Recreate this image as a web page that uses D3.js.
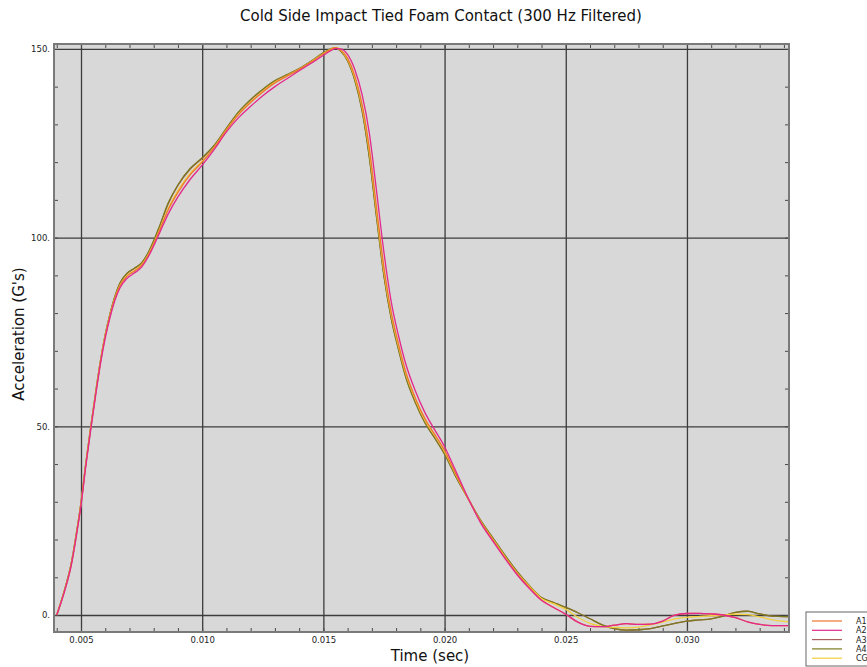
<!DOCTYPE html>
<html>
<head>
<meta charset="utf-8">
<script src="https://cdn.jsdelivr.net/npm/d3@7"></script>
<style>
  html, body { margin: 0; padding: 0; background: #ffffff; }
  svg { display: block; font-family: "DejaVu Sans", sans-serif; }
</style>
</head>
<body>
<svg id="chart" width="867" height="667"></svg>
<script>
// ---------------- data ----------------
const seriesNames = ["A1", "A2", "A3", "A4", "CG"];
const seriesColors = ["#ee7530", "#e2288c", "#a8605c", "#7c7a1e", "#f2cf3c"];

const times = [0.0040, 0.0043, 0.0046, 0.0048, 0.0050, 0.0052, 0.0054, 0.0056, 0.0058, 0.0060,
  0.0062, 0.0064, 0.0066, 0.0069, 0.0072, 0.0075, 0.0078, 0.0082, 0.0086, 0.0090,
  0.0095, 0.0100, 0.0105, 0.0110, 0.0115, 0.0120, 0.0125, 0.0130, 0.0135, 0.0140,
  0.0145, 0.0150, 0.0153, 0.0155, 0.0157, 0.0160, 0.0163, 0.0166, 0.0169, 0.0172,
  0.0175, 0.0178, 0.0181, 0.0184, 0.0188, 0.0192, 0.0196, 0.0200, 0.0205, 0.0210,
  0.0215, 0.0220, 0.0225, 0.0230, 0.0235, 0.0240, 0.0245, 0.0250, 0.0255, 0.0260,
  0.0265, 0.0270, 0.0275, 0.0280, 0.0285, 0.0290, 0.0295, 0.0300, 0.0305, 0.0310,
  0.0315, 0.0320, 0.0325, 0.0330, 0.0335, 0.0340, 0.0342];

const valuesCG = [0, 6, 13.5, 21, 29.5, 40, 49.5, 58.5, 67, 74,
  79.5, 84, 87.3, 90, 91.3, 92.8, 95.8, 101.5, 107.8, 112.5,
  117, 120.3, 124, 128.6, 132.8, 136, 138.8, 141.2, 142.9, 144.6,
  146.6, 148.8, 149.9, 150.3, 149.7, 147.2, 142.3, 134.5, 122.5, 106.5,
  91, 79.5, 71.2, 63.9, 57, 51.5, 47.5, 43.3, 36.7, 30.5,
  24.7, 20.0, 15.4, 11.1, 7.6, 4.4, 3.0, 1.5, -0.6, -2.2,
  -3.0, -3.3, -3.4, -3.2, -2.6, -1.9, -1.0, -0.6, -0.4, -0.2,
  0.0, 0.2, 0.1, -0.5, -1.2, -1.7, -1.8];

const valuesA4 = [0, 6.2, 13.8, 21.3, 29.8, 40.3, 49.8, 58.8, 67.3, 74.3,
  79.9, 84.5, 87.9, 90.6, 91.9, 93.3, 96.4, 102.4, 109.2, 114.0,
  118.3, 121.2, 124.5, 129.0, 133.3, 136.6, 139.3, 141.6, 143.2, 144.8,
  146.8, 149.0, 150.0, 150.3, 149.5, 146.8, 141.6, 133.5, 121, 105,
  89.7, 78.5, 70.3, 63, 56.2, 50.8, 46.8, 42.6, 36.2, 30.5,
  25.0, 20.4, 15.8, 11.5, 7.8, 4.6, 3.3, 2.0, 0.6, -1.0,
  -2.6, -3.6, -4.0, -3.9, -3.6, -2.9, -2.2, -1.6, -1.3, -1.0,
  -0.3, 0.7, 1.0, 0.3, -0.3, -0.4, -0.4];

const valuesA3 = [0, 6.1, 13.7, 21.2, 29.7, 40.2, 49.7, 58.7, 67.2, 74.2,
  79.8, 84.4, 87.8, 90.5, 91.8, 93.2, 96.3, 102.2, 109.0, 113.8,
  118.1, 121.0, 124.4, 128.9, 133.2, 136.5, 139.2, 141.5, 143.1, 144.7,
  146.7, 148.9, 150.0, 150.3, 149.5, 146.9, 141.7, 133.6, 121.2, 105.2,
  89.9, 78.6, 70.4, 63.1, 56.3, 50.9, 46.9, 42.7, 36.3, 30.5,
  24.9, 20.3, 15.7, 11.4, 7.7, 4.6, 3.3, 2.0, 0.6, -1.0,
  -2.6, -3.6, -4.0, -3.9, -3.6, -2.9, -2.2, -1.6, -1.3, -1.0,
  -0.3, 0.7, 1.0, 0.3, -0.3, -0.4, -0.4];

const valuesA2 = [0, 5.8, 13.2, 20.6, 29, 39.5, 49, 58, 66.4, 73.4,
  78.9, 83.4, 86.6, 89.2, 90.6, 92.2, 95.2, 100.6, 106.3, 110.8,
  115.4, 119.2, 123.4, 128.0, 131.8, 134.8, 137.6, 140.0, 142.1, 144.2,
  146.2, 148.3, 149.5, 150.1, 150.0, 148.5, 144.5, 137.8, 127.5, 112,
  96, 83, 74, 66.5, 59.3, 53.5, 49, 44.6, 37.6, 30.6,
  24.3, 19.5, 14.9, 10.6, 7.0, 3.9, 2.0, 0.2, -1.9, -3.0,
  -3.1, -2.7, -2.3, -2.5, -2.4, -1.6, 0.0, 0.4, 0.45, 0.3,
  0.0, -0.7, -1.8, -2.5, -2.8, -2.8, -2.8];

const valuesA1 = [0, 6, 13.4, 20.9, 29.4, 39.9, 49.4, 58.4, 66.9, 73.9,
  79.4, 83.9, 87.2, 89.8, 91.1, 92.6, 95.6, 101.3, 107.4, 112.0,
  116.6, 120.0, 123.9, 128.5, 132.6, 135.8, 138.6, 141.0, 142.8, 144.5,
  146.5, 148.7, 149.8, 150.3, 149.8, 147.5, 142.8, 135.2, 123.5, 107.5,
  92, 80.2, 71.8, 64.4, 57.4, 51.9, 47.8, 43.6, 36.9, 30.5,
  24.6, 19.8, 15.2, 10.9, 7.3, 3.9, 2.0, 0.2, -1.9, -3.0,
  -3.1, -2.7, -2.3, -2.5, -2.4, -1.6, 0.0, 0.4, 0.45, 0.3,
  0.0, -0.7, -1.8, -2.5, -2.8, -2.8, -2.8];

const seriesValues = [valuesA1, valuesA2, valuesA3, valuesA4, valuesCG];
const drawOrder = [2, 3, 4, 0, 1];   // A3, A4, CG, A1, A2

const xTicks = [0.005, 0.010, 0.015, 0.020, 0.025, 0.030];
const xTickLabels = ["0.005", "0.010", "0.015", "0.020", "0.025", "0.030"];
const yTicks = [0, 50, 100, 150];
const yTickLabels = ["0.", "50.", "100.", "150."];
const xMinorTicks = [0.004, 0.005, 0.006, 0.007, 0.008, 0.009, 0.010, 0.011, 0.012, 0.013, 0.014,
  0.015, 0.016, 0.017, 0.018, 0.019, 0.020, 0.021, 0.022, 0.023, 0.024, 0.025, 0.026, 0.027,
  0.028, 0.029, 0.030, 0.031, 0.032, 0.033, 0.034];
const yMinorTicks = [0, 10, 20, 30, 40, 50, 60, 70, 80, 90, 100, 110, 120, 130, 140, 150];

const titleText = "Cold Side Impact Tied Foam Contact (300 Hz Filtered)";
const xLabelText = "Time (sec)";
const yLabelText = "Acceleration (G's)";

// ---------------- layout ----------------
(function () {
const svg = d3.select("#chart");
const pLeft = 54, pRight = 789, pTop = 44, pBottom = 632;
const W = pRight - pLeft, H = pBottom - pTop;

const x = d3.scaleLinear().domain([0.003886, 0.03421]).range([0, W]);
const y = d3.scaleLinear().domain([-4.5, 151.3]).range([H, 0]);

const g = svg.append("g").attr("transform", `translate(${pLeft},${pTop})`);

g.append("rect").attr("width", W).attr("height", H).attr("fill", "#d8d8d8");

// grid lines + labels (major)
const xAxis = g.append("g").attr("transform", `translate(0,${H})`)
  .call(d3.axisBottom(x).tickValues(xTicks)
    .tickFormat((d, i) => xTickLabels[i]).tickSizeInner(-H).tickSizeOuter(0).tickPadding(5));
const yAxis = g.append("g")
  .call(d3.axisLeft(y).tickValues(yTicks)
    .tickFormat((d, i) => yTickLabels[i]).tickSizeInner(-W).tickSizeOuter(0).tickPadding(4));
[xAxis, yAxis].forEach(a => {
  a.select(".domain").remove();
  a.selectAll(".tick line").attr("stroke", "#3c3c3c").attr("stroke-width", 1.3);
  a.selectAll(".tick text").attr("fill", "#222").style("font-size", "8.5px")
    .style("font-family", "'DejaVu Sans', sans-serif");
});

// minor ticks (inside, all four sides)
function minor(axisGen, transform) {
  const a = g.append("g").attr("transform", transform)
    .call(axisGen.tickSizeInner(-4).tickSizeOuter(0).tickFormat(""));
  a.select(".domain").remove();
  a.selectAll(".tick line").attr("stroke", "#4a4a4a").attr("stroke-width", 1);
}
minor(d3.axisBottom(x).tickValues(xMinorTicks), `translate(0,${H})`);
minor(d3.axisTop(x).tickValues(xMinorTicks), `translate(0,0)`);
minor(d3.axisLeft(y).tickValues(yMinorTicks), `translate(0,0)`);
minor(d3.axisRight(y).tickValues(yMinorTicks), `translate(${W},0)`);

// curves
const line = d3.line()
  .x((d, i) => x(times[i]))
  .y(d => y(d))
  .curve(d3.curveMonotoneX);

svg.append("clipPath").attr("id", "clip")
  .append("rect").attr("width", W).attr("height", H);

const curves = g.append("g").attr("clip-path", "url(#clip)");
drawOrder.forEach(k => {
  curves.append("path")
    .datum(seriesValues[k])
    .attr("d", line)
    .attr("fill", "none")
    .attr("stroke", seriesColors[k])
    .attr("stroke-width", 1.3)
    .attr("stroke-linejoin", "round");
});

// frame
g.append("rect").attr("width", W).attr("height", H)
  .attr("fill", "none").attr("stroke", "#7a7a7a").attr("stroke-width", 2);

// title and axis labels
svg.append("text").attr("x", 441).attr("y", 21).attr("text-anchor", "middle")
  .style("font-size", "15px").attr("fill", "#111").text(titleText);
svg.append("text").attr("x", 430).attr("y", 661).attr("text-anchor", "middle")
  .style("font-size", "15px").attr("fill", "#111").text(xLabelText);
svg.append("text").attr("transform", "translate(24,334) rotate(-90)").attr("text-anchor", "middle")
  .style("font-size", "15px").attr("fill", "#111").text(yLabelText);

// legend
const lg = svg.append("g").attr("transform", "translate(806,612)");
lg.append("rect").attr("width", 70).attr("height", 54)
  .attr("fill", "#fff").attr("stroke", "#666").attr("stroke-width", 1);
seriesNames.forEach((name, i) => {
  const yy = 9 + i * 9.3;
  lg.append("line").attr("x1", 6).attr("x2", 36).attr("y1", yy).attr("y2", yy)
    .attr("stroke", seriesColors[i]).attr("stroke-width", 1.2);
  lg.append("text").attr("x", 50).attr("y", yy + 3).style("font-size", "8px")
    .attr("fill", "#222").text(name);
});
})();
</script>
</body>
</html>
